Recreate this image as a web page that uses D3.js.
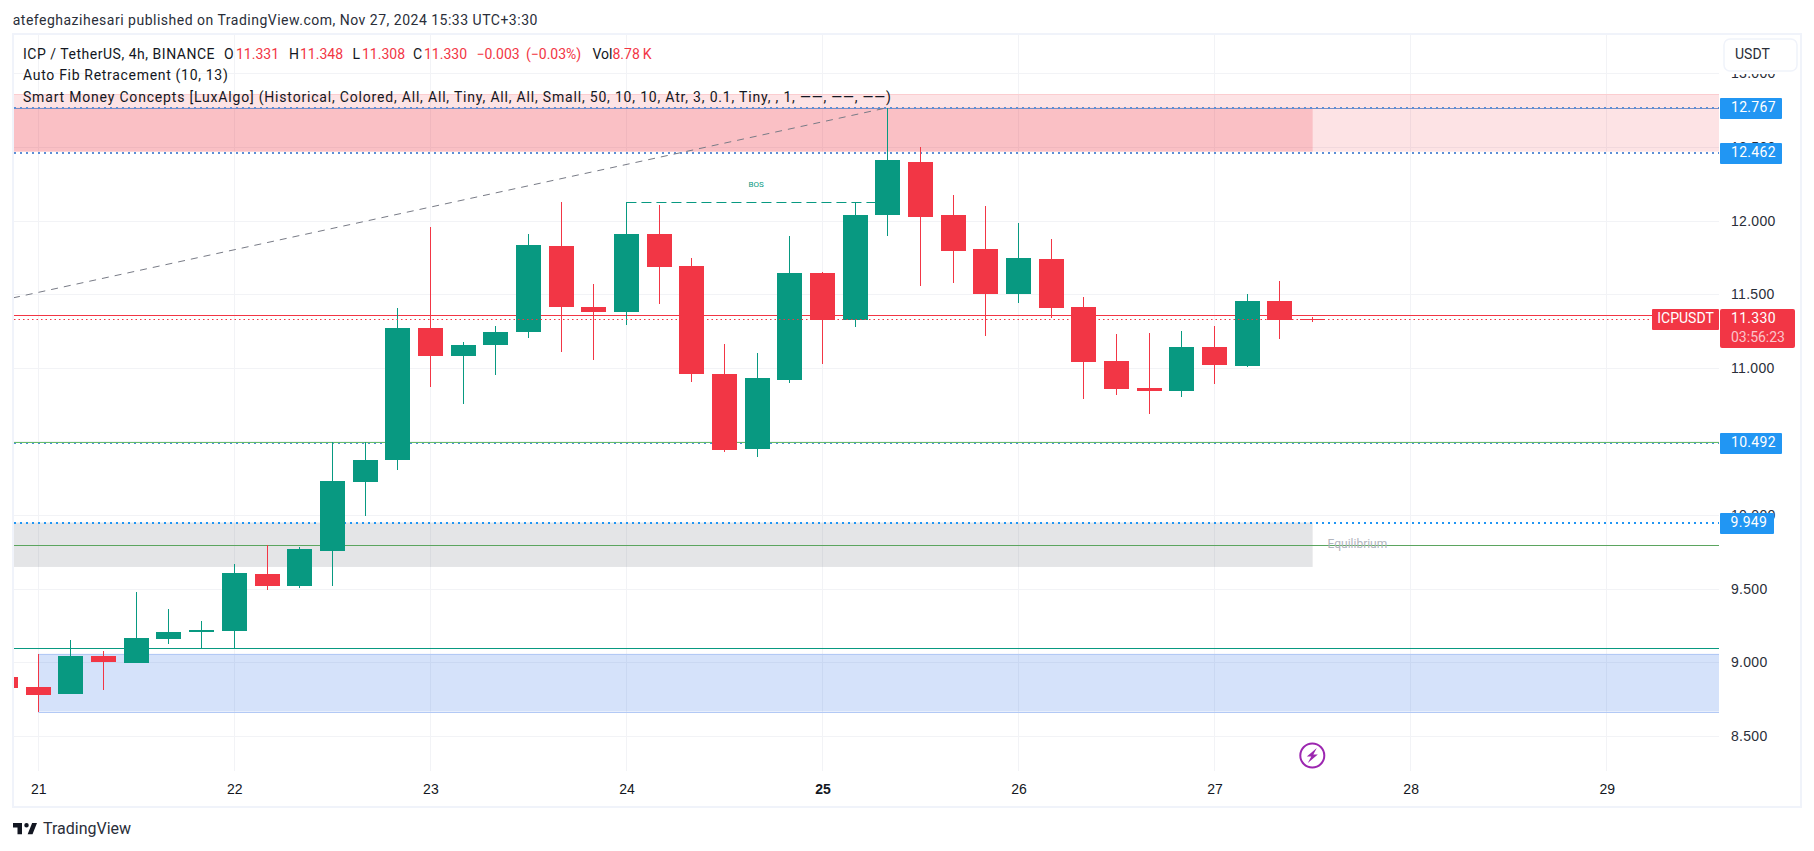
<!DOCTYPE html>
<html>
<head>
<meta charset="utf-8">
<title>ICPUSDT</title>
<script src="https://cdnjs.cloudflare.com/ajax/libs/d3/7.9.0/d3.min.js"></script>
<style>
  html, body { margin: 0; padding: 0; background: #fff; overflow: hidden; }
  svg { display: block; font-family: Roboto, sans-serif; }
</style>
</head>
<body>
<svg id="chart" width="1814" height="851"></svg>
<script>
// candles, 4h bars, first one is the half hidden bar before the 21st
const opens = [8.901, 8.834, 8.786, 9.044, 8.997, 9.159, 9.207, 9.214, 9.601, 9.519, 9.757, 10.225, 10.375, 11.271, 11.081, 11.155, 11.244, 11.827, 11.413, 11.379, 11.909, 11.692, 10.958, 10.449, 10.918, 11.644, 11.325, 12.038, 12.398, 12.038, 11.807, 11.501, 11.739, 11.413, 11.047, 10.864, 10.843, 11.142, 11.013, 11.454, 11.331];
const highs = [8.901, 9.058, 9.153, 9.078, 9.478, 9.363, 9.282, 9.669, 9.798, 9.784, 10.495, 10.496, 11.407, 11.956, 11.176, 11.284, 11.909, 12.126, 11.569, 12.126, 12.106, 11.746, 11.162, 11.101, 11.895, 11.651, 12.119, 12.767, 12.500, 12.174, 12.099, 11.984, 11.875, 11.481, 11.230, 11.237, 11.250, 11.284, 11.501, 11.590, 11.348];
const lows = [8.827, 8.666, 8.786, 8.813, 8.997, 9.125, 9.098, 9.098, 9.492, 9.506, 9.519, 9.995, 10.307, 10.870, 10.755, 10.952, 11.203, 11.108, 11.053, 11.291, 11.434, 10.904, 10.429, 10.395, 10.897, 11.026, 11.278, 11.895, 11.556, 11.576, 11.216, 11.441, 11.339, 10.789, 10.816, 10.687, 10.802, 10.891, 11.006, 11.196, 11.308];
const closes = [8.827, 8.779, 9.044, 9.003, 9.166, 9.207, 9.221, 9.608, 9.519, 9.770, 10.232, 10.375, 11.271, 11.081, 11.155, 11.244, 11.834, 11.413, 11.379, 11.909, 11.685, 10.958, 10.443, 10.931, 11.644, 11.325, 12.038, 12.411, 12.024, 11.793, 11.501, 11.746, 11.407, 11.040, 10.857, 10.843, 11.142, 11.020, 11.454, 11.325, 11.330];
const firstBarDay = 20 + 5 / 6;
const barDays = opens.map((_, i) => firstBarDay + i / 6);

const dayTicks = [21, 22, 23, 24, 25, 26, 27, 28, 29];
const priceTicks = [13, 12.5, 12, 11.5, 11, 10.5, 10, 9.5, 9, 8.5];

// indicator levels
const fibLevels = [12.767, 12.462, 10.492, 9.949];
const supplyZone = [12.859, 12.468];
const supplyZoneDark = [12.767, 12.468];
const equilibriumZone = [9.949, 9.648];
const equilibriumLevel = 9.796;
const demandZone = [9.058, 8.666];
const demandLine = 9.098;
const fibGreen = 10.492;
const previousClose = 11.362;
const lastPrice = 11.330;
const zoneEndDay = 27.5;
const trendDays = [20.871, 25.333];
const trendPrices = [11.475, 12.767];
const bosDays = [24, 25.333];
const bosPrice = 12.126;

const GREEN = '#089981';
const RED = '#f23645';
const BLUE = '#2196f3';
const GRID = '#f2f3f6';
const FRAME = '#f0f3fa';
const TEXT = '#131722';

const svg = d3.select('#chart');

const plotLeft = 14, plotRight = 1719, plotTop = 35, plotBottom = 771;

const x = d3.scaleLinear().domain([21, 29]).range([38.3, 1606.7]);
const y = d3.scaleLinear().domain([13, 8.5]).range([73.3, 736]);
const py = (v) => Math.round(y(v));

svg.append('defs').append('clipPath').attr('id', 'plot-clip')
  .append('rect')
  .attr('x', plotLeft).attr('y', plotTop)
  .attr('width', plotRight - plotLeft).attr('height', plotBottom - plotTop);

// frame
svg.append('rect')
  .attr('x', 13).attr('y', 34)
  .attr('width', 1788).attr('height', 773)
  .attr('fill', 'none')
  .attr('stroke', FRAME)
  .attr('stroke-width', 2);

const plot = svg.append('g').attr('clip-path', 'url(#plot-clip)');

// grid
plot.selectAll('.grid-y')
  .data(priceTicks)
  .enter()
  .append('rect')
  .attr('x', plotLeft).attr('width', plotRight - plotLeft)
  .attr('y', (d) => py(d)).attr('height', 1)
  .attr('fill', GRID);

plot.selectAll('.grid-x')
  .data(dayTicks)
  .enter()
  .append('rect')
  .attr('y', plotTop).attr('height', plotBottom - plotTop)
  .attr('x', (d) => Math.floor(x(d))).attr('width', 1)
  .attr('fill', GRID);

// zones
function zone(fromX, toX, prices, fill, opacity) {
  return plot.append('rect')
    .attr('x', fromX)
    .attr('width', toX - fromX)
    .attr('y', y(prices[0]))
    .attr('height', y(prices[1]) - y(prices[0]))
    .attr('fill', fill)
    .attr('fill-opacity', opacity);
}

zone(plotLeft, plotRight, supplyZone, '#f23645', 0.14);
zone(plotLeft, x(zoneEndDay), supplyZoneDark, '#f23645', 0.2);
zone(plotLeft, x(zoneEndDay), equilibriumZone, '#787b86', 0.2);
zone(x(21), plotRight, demandZone, '#2e6fe8', 0.2);

function edge(fromX, price, color) {
  plot.append('rect')
    .attr('x', fromX).attr('width', plotRight - fromX)
    .attr('y', py(price)).attr('height', 1)
    .attr('fill', color);
}

edge(plotLeft, supplyZone[0], '#fbcdd0');
edge(x(21), demandZone[0], '#b3c9f5');
edge(x(21), demandZone[1], '#b3c9f5');

function hline(price, color, width, dash, shift) {
  const yy = py(price) + (width % 2 ? 0.5 : 0) + (shift || 0);
  const l = plot.append('line')
    .attr('x1', plotLeft).attr('x2', plotRight)
    .attr('y1', yy).attr('y2', yy)
    .attr('stroke', color)
    .attr('stroke-width', width);
  if (dash) l.attr('stroke-dasharray', dash);
  return l;
}

hline(fibLevels[0], '#7b8fc4', 1);
hline(previousClose, RED, 1);
hline(fibGreen, '#66bb6a', 1, null, -1);
hline(equilibriumLevel, '#5ba55f', 1);
hline(demandLine, GREEN, 1);

// fib dotted lines
hline(fibLevels[0], '#5c8fd6', 2, '2 4');
hline(fibLevels[1], '#5c8fd6', 2, '2 4');
hline(fibLevels[2], '#4c8fd8', 1, '2 4');
hline(fibLevels[3], BLUE, 2, '2 4');

// trend line of the auto fib
plot.append('line')
  .attr('x1', x(trendDays[0])).attr('x2', x(trendDays[1]))
  .attr('y1', y(trendPrices[0])).attr('y2', y(trendPrices[1]))
  .attr('stroke', '#787b86')
  .attr('stroke-width', 1)
  .attr('stroke-dasharray', '7 6');

// break of structure
plot.append('line')
  .attr('x1', x(bosDays[0])).attr('x2', x(bosDays[1]))
  .attr('y1', py(bosPrice) + 0.5).attr('y2', py(bosPrice) + 0.5)
  .attr('stroke', GREEN)
  .attr('stroke-width', 1)
  .attr('stroke-dasharray', '10 5');

plot.append('text')
  .attr('x', x((bosDays[0] + bosDays[1]) / 2) - 1)
  .attr('y', y(bosPrice) - 17)
  .attr('dominant-baseline', 'middle')
  .attr('text-anchor', 'middle')
  .attr('fill', GREEN)
  .style('font-size', '8px')
  .text('BOS');

plot.append('text')
  .attr('x', 1327.5)
  .attr('y', y(equilibriumLevel))
  .attr('dominant-baseline', 'middle')
  .attr('fill', '#b2b5be')
  .style('font-size', '12px')
  .text('Equilibrium');

// candles
const candles = plot.selectAll('.candle')
  .data(opens.map((o, i) => ({ day: barDays[i], o, h: highs[i], l: lows[i], c: closes[i] })))
  .enter()
  .append('g')
  .attr('fill', (d) => (d.c >= d.o ? GREEN : RED));

candles.append('rect')
  .attr('x', (d) => Math.floor(x(d.day)))
  .attr('width', 1)
  .attr('y', (d) => py(d.h))
  .attr('height', (d) => Math.max(1, py(d.l) - py(d.h)));

candles.append('rect')
  .attr('x', (d) => Math.floor(x(d.day)) - 12)
  .attr('width', 25)
  .attr('y', (d) => py(Math.max(d.o, d.c)))
  .attr('height', (d) => Math.max(1, py(Math.min(d.o, d.c)) - py(Math.max(d.o, d.c))));

// last price line goes over the candles
hline(lastPrice, RED, 1, '1.5 3');

// lightning mark
const mark = svg.append('g').attr('transform', 'translate(1312.3,755.5)');
mark.append('circle')
  .attr('r', 12)
  .attr('fill', '#fff')
  .attr('stroke', '#9c27b0')
  .attr('stroke-width', 2);
mark.append('path')
  .attr('d', 'M4.5,-7.5 L-5.5,1 L-1,1 L-4.5,7.5 L5.5,-1 L1,-1 Z')
  .attr('fill', '#9c27b0');

// axes
const priceAxis = svg.append('g')
  .attr('transform', 'translate(1731,0)')
  .call(d3.axisRight(y).tickValues(priceTicks).tickFormat(d3.format('.3f')).tickSize(0).tickPadding(0));
priceAxis.select('.domain').remove();
priceAxis.selectAll('text')
  .attr('fill', '#2a2e39')
  .style('font-size', '14px')
  .style('letter-spacing', '0.3px');

const dayAxis = svg.append('g')
  .attr('transform', 'translate(0,784)')
  .call(d3.axisBottom(x).tickValues(dayTicks).tickFormat(d3.format('d')).tickSize(0).tickPadding(0));
dayAxis.select('.domain').remove();
dayAxis.selectAll('text')
  .attr('fill', TEXT)
  .style('font-size', '14px')
  .style('font-weight', (d) => (d === 25 ? 700 : 400));

// currency button, its backing hides the top of the 13.000 tick
svg.append('rect')
  .attr('x', 1721).attr('y', 36)
  .attr('width', 78).attr('height', 38)
  .attr('fill', '#fff');
svg.append('rect')
  .attr('x', 1724).attr('y', 39)
  .attr('width', 73).attr('height', 32)
  .attr('rx', 6)
  .attr('fill', '#fff')
  .attr('stroke', FRAME)
  .attr('stroke-width', 1.5);
svg.append('text')
  .attr('x', 1735).attr('y', 55)
  .attr('dominant-baseline', 'middle')
  .attr('fill', '#2a2e39')
  .style('font-size', '14px')
  .text('USDT');

// price labels
const fibLabels = svg.selectAll('.fib-label')
  .data(fibLevels)
  .enter()
  .append('g')
  .attr('transform', (d) => `translate(1720,${py(d) - 10})`);
fibLabels.append('rect')
  .attr('width', (d) => (d < 10 ? 54 : 62))
  .attr('height', 21)
  .attr('rx', 1)
  .attr('fill', BLUE);
fibLabels.append('text')
  .attr('x', (d) => (d < 10 ? 10.5 : 11))
  .attr('y', 10.5)
  .attr('dominant-baseline', 'middle')
  .attr('fill', '#fff')
  .style('font-size', '14px')
  .style('letter-spacing', '0.3px')
  .text((d) => d3.format('.3f')(d));

const lastLabel = svg.append('g').attr('transform', `translate(1720,${py(lastPrice) - 10})`);
lastLabel.append('rect')
  .attr('width', 75).attr('height', 39)
  .attr('rx', 2)
  .attr('fill', RED);
lastLabel.append('text')
  .attr('x', 11).attr('y', 10.5)
  .attr('dominant-baseline', 'middle')
  .attr('fill', '#fff')
  .style('font-size', '14px')
  .style('letter-spacing', '0.3px')
  .text(d3.format('.3f')(lastPrice));
lastLabel.append('text')
  .attr('x', 11).attr('y', 29)
  .attr('dominant-baseline', 'middle')
  .attr('fill', '#fbc4ca')
  .style('font-size', '14px')
  .text('03:56:23');

const symbolLabel = svg.append('g').attr('transform', `translate(1652,${py(lastPrice) - 10})`);
symbolLabel.append('rect')
  .attr('width', 67).attr('height', 21)
  .attr('rx', 1)
  .attr('fill', RED);
symbolLabel.append('text')
  .attr('x', 33.5).attr('y', 10.5)
  .attr('dominant-baseline', 'middle')
  .attr('text-anchor', 'middle')
  .attr('fill', '#fff')
  .style('font-size', '14px')
  .text('ICPUSDT');

// header and legend
function label(text, xx, yy, color, size, spacing) {
  return svg.append('text')
    .attr('x', xx).attr('y', yy)
    .attr('dominant-baseline', 'middle')
    .attr('fill', color || TEXT)
    .style('font-size', (size || 14) + 'px')
    .style('letter-spacing', (spacing || 0) + 'px')
    .text(text);
}

label('atefeghazihesari published on TradingView.com, Nov 27, 2024 15:33 UTC+3:30', 12.7, 21, '#2a2e39', 14, 0.5);

const legendParts = [
  ['ICP / TetherUS, 4h, BINANCE', 23, TEXT, 0.52],
  ['O', 224, TEXT], ['11.331', 236, RED],
  ['H', 289, TEXT], ['11.348', 300, RED],
  ['L', 352.5, TEXT], ['11.308', 362, RED],
  ['C', 413, TEXT], ['11.330', 424, RED],
  ['\u22120.003', 476.5, RED],
  ['(\u22120.03%)', 526, RED],
  ['Vol', 592.5, TEXT], ['8.78\u2009K', 612.5, RED]
];
legendParts.forEach(([t, xx, color, spacing]) => label(t, xx, 55.5, color, 14, spacing));

label('Auto Fib Retracement (10, 13)', 23, 76, TEXT, 14, 0.69);
label('Smart Money Concepts [LuxAlgo] (Historical, Colored, All, All, Tiny, All, All, Small, 50, 10, 10, Atr, 3, 0.1, Tiny, , 1, \u2014\u2014, \u2014\u2014, \u2014\u2014)', 23, 98, TEXT, 14, 0.81);

// logo
svg.append('path')
  .attr('transform', 'translate(11.5,818.5) scale(0.75)')
  .attr('d', 'M14 6H2v6h6v9h6V6zm14 15h-6.5l6-15H34l-6 15zm-8-9a3 3 0 1 0 0-6 3 3 0 0 0 0 6z')
  .attr('fill', TEXT);
label('TradingView', 43, 830, '#2a2e39', 16);
</script>
</body>
</html>
